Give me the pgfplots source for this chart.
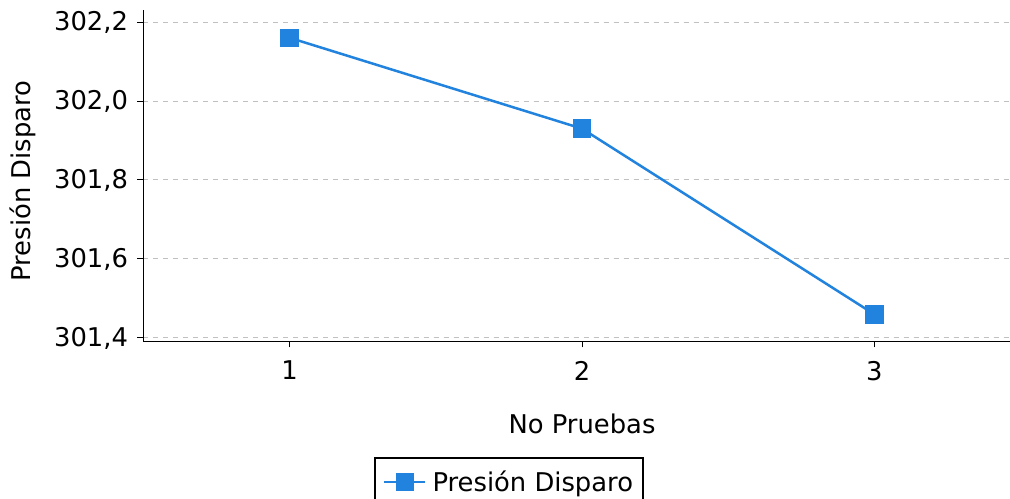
\documentclass[border=0pt]{standalone}
\usepackage{fontspec}
\setmainfont{DejaVu Sans}
\usepackage{pgfplots}
\pgfplotsset{compat=1.18}
\definecolor{serie}{RGB}{33,131,221}
\definecolor{rejilla}{RGB}{192,192,192}
\begin{document}
\begin{tikzpicture}[font=\fontsize{25.8bp}{30bp}\selectfont]
\begin{axis}[
  name=ax,
  scale only axis,
  width=877bp, height=331.5bp,
  xmin=0.5, xmax=3.5,
  ymin=301.3911, ymax=302.2304,
  xtick={1,2,3},
  ytick={301.4,301.6,301.8,302.0,302.2},
  axis x line*=bottom, axis y line*=left,
  tick align=outside, major tick length=6bp,
  tick style={black, line width=1bp},
  axis line style={line width=1.5bp, black},
  ymajorgrids,
  grid style={rejilla, dash pattern=on 5bp off 5bp, line width=1bp},
  /pgf/number format/assume math mode=true,
  yticklabel style={xshift=-6bp, /pgf/number format/.cd, fixed, fixed zerofill, precision=1, use comma},
  xticklabel style={yshift=-10bp},
  xlabel={No Pruebas},
  ylabel={Presión Disparo},
  xlabel style={at={(axis description cs:0.5,-0.2489)}, anchor=center},
  ylabel style={at={(axis description cs:-0.1374,0.484)}, anchor=center},
  legend style={at={(axis description cs:0.4168,-0.3484)}, anchor=north,
    draw=black, line width=2bp, inner xsep=8bp, inner ysep=11bp, column sep=4bp},
  legend image code/.code={
    \draw[mark repeat=2, mark phase=2] plot coordinates {(0bp,0bp) (20.5bp,0bp) (41bp,0bp)};
  },
]
\addplot[serie, line width=2.5bp, mark=square*, mark size=8bp, mark options={solid}]
  coordinates {(1,302.16) (2,301.93) (3,301.46)};
\addlegendentry{Presión Disparo}
\end{axis}
\pgfresetboundingbox
\path ([xshift=-143.5bp,yshift=-157.5bp]ax.south west) rectangle ([xshift=866.5bp,yshift=341.5bp]ax.south west);
\end{tikzpicture}
\end{document}
